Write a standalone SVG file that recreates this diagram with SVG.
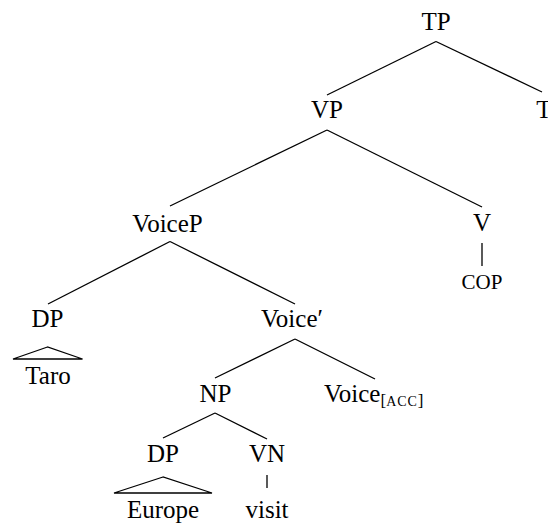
<svg xmlns="http://www.w3.org/2000/svg" width="548" height="525" viewBox="0 0 548 525">
<style>
text{font-family:"Liberation Serif","Times New Roman",serif;font-size:25px;fill:#000;text-anchor:middle}
.sc{font-size:21px}
.e{stroke:#000;stroke-width:1.3;fill:none}
</style>
<rect width="548" height="525" fill="#fff"/>
<g id="connectors">
<line class="e" x1="436" y1="41.5" x2="327" y2="95"/>
<line class="e" x1="436" y1="41.5" x2="542" y2="92"/>
<line class="e" x1="327" y1="130" x2="170" y2="206"/>
<line class="e" x1="327" y1="130" x2="482" y2="207"/>
<line class="e" x1="482" y1="243" x2="482" y2="266"/>
<line class="e" x1="170" y1="241.5" x2="48" y2="304"/>
<line class="e" x1="170" y1="241.5" x2="295" y2="304"/>
<line class="e" x1="295" y1="339" x2="215" y2="378"/>
<line class="e" x1="295" y1="339" x2="375" y2="379"/>
<line class="e" x1="215" y1="413" x2="163" y2="438"/>
<line class="e" x1="215" y1="413" x2="267" y2="439"/>
<line class="e" x1="267" y1="475" x2="267" y2="488"/>
<polygon class="e" points="47.5,347 13,359 82.5,359"/>
<polygon class="e" points="163,477 114,493 212,493"/>
</g>
<g id="TP"><text x="436" y="29.5">TP</text></g>
<g id="VP"><text x="327" y="118">VP</text></g>
<g id="T"><text x="544" y="118">T</text></g>
<g id="VoiceP"><text x="167.5" y="231.5">VoiceP</text></g>
<g id="V"><text x="482" y="231">V</text></g>
<g id="COP"><text class="sc" x="482" y="289">COP</text></g>
<g id="DP1"><text x="47.5" y="327">DP</text></g>
<g id="Taro"><text x="48" y="383.5">Taro</text></g>
<g id="VoiceBar"><text x="292" y="327">Voice′</text></g>
<g id="NP"><text x="215.5" y="401.5">NP</text></g>
<g id="VoiceACC"><text x="324" y="401.5" style="text-anchor:start">Voice<tspan font-size="17" dy="4.5">[</tspan><tspan font-size="14" letter-spacing="0.9">ACC</tspan><tspan font-size="17">]</tspan></text></g>
<g id="DP2"><text x="163" y="461.5">DP</text></g>
<g id="VN"><text x="267" y="461.5">VN</text></g>
<g id="Europe"><text x="163" y="518">Europe</text></g>
<g id="visit"><text x="267" y="518">visit</text></g>
</svg>
